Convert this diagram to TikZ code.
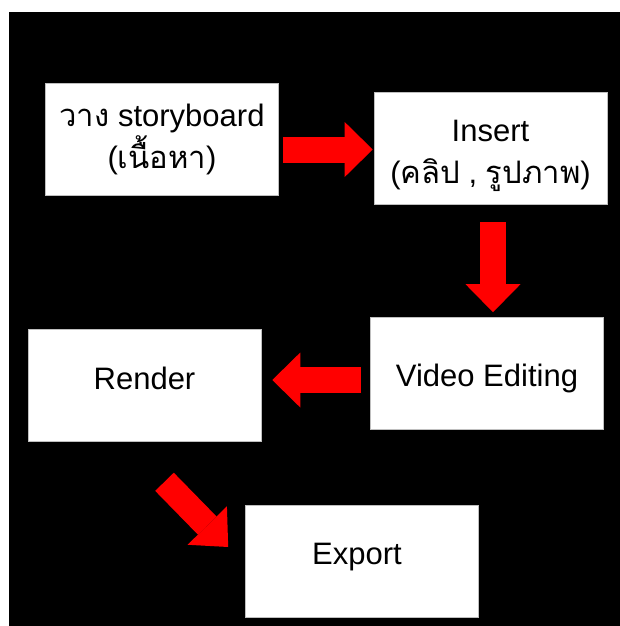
\documentclass[tikz,border=0pt]{standalone}
\usepackage{fontspec}
\setmainfont{Liberation Sans}
\newfontfamily\thaifont[Script=Thai]{Loma}
\usetikzlibrary{calc}
\usetikzlibrary{arrows.meta}

\tikzset{
  stepbox/.style={fill=white, draw=black!25, line width=0.6pt,
    minimum width=233pt, minimum height=112pt, inner sep=0pt,
    align=center, font=\fontsize{31}{42}\selectfont},
  flow/.style={draw=red, line width=26pt,
    -{Triangle[length=28pt,width=55pt,line width=0pt]}},
}
\newcommand{\nudge}[2]{\raisebox{#1}[\height][\depth]{#2}}

\begin{document}
\begin{tikzpicture}[x=1pt,y=-1pt]
        \useasboundingbox (0,0) rectangle (620,626);
        \fill[white] (0,0) rectangle (620,626);
        \fill[black] (9,12) rectangle (620,626);
        % steps
        \node[stepbox] (story) at (162,139.5) {{\thaifont วาง} storyboard\\({\thaifont เนื้อหา})};
        \node[stepbox] (insert) at (490.5,148) {\rule{0pt}{38pt}Insert\\({\thaifont คลิป} , {\thaifont รูปภาพ})};
        \node[stepbox] (video) at (487,373.5) {\nudge{-5pt}{Video Editing}};
        \node[stepbox] (render) at (144.5,385.5) {\nudge{7pt}{Render}};
        \node[stepbox] (export) at (362,561.5) {\hspace*{-10pt}\nudge{4pt}{Export}};
        % arrows
        \draw[flow] ($(story.east)+(4,10)$) -- ($(insert.west)+(-1,1.5)$);
        \draw[flow] ($(insert.south)+(2.5,18)$) -- ($(video.north)+(6,-5)$);
        \draw[flow] ($(video.west)+(-9,6.5)$) -- ($(render.east)+(11,-5.5)$);
        \draw[flow,-{Triangle[length=30pt,width=55pt,line width=0pt]}] ($(render.south)+(20,40)$) -- ($(export.west)+(-17,-14.5)$);
    \end{tikzpicture}
\end{document}
